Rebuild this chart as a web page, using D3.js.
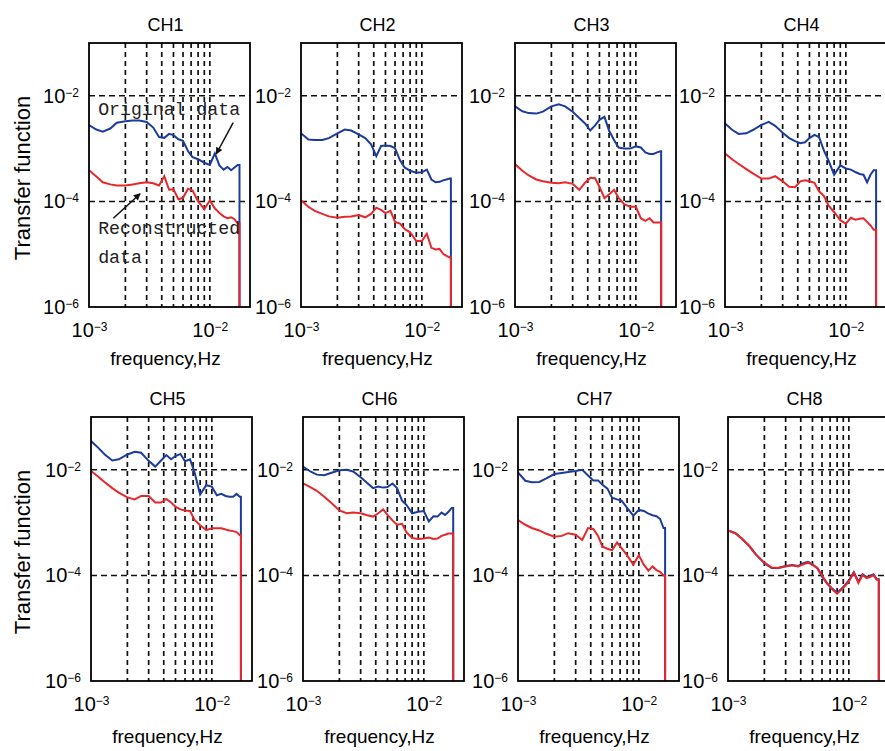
<!DOCTYPE html>
<html>
<head>
<meta charset="utf-8">
<script src="https://cdn.jsdelivr.net/npm/d3@7"></script>
<style>
body { margin: 0; background: #fff; }
text { font-family: Arial, "Liberation Sans", sans-serif; fill: #000; }
.grid-v line { stroke: #111; stroke-width: 1.7px; stroke-dasharray: 5,4; }
.grid-h line { stroke: #111; stroke-width: 1.5px; stroke-dasharray: 6,4; }
.note { font-family: "Liberation Mono", "DejaVu Sans Mono", monospace; fill: #222; }
</style>
</head>
<body>
<svg id="chart" width="885" height="751"></svg>
<script>

// frequency grid (Hz) the curves were read at
var freq = [1.0e-3, 1.15e-3, 1.3e-3, 1.5e-3, 1.7e-3, 2.0e-3, 2.3e-3, 2.6e-3, 3.0e-3, 3.4e-3,
            3.8e-3, 4.2e-3, 4.6e-3, 5.0e-3, 5.5e-3, 6.0e-3, 6.6e-3, 7.2e-3, 8.0e-3, 9.0e-3,
            1.0e-2, 1.1e-2, 1.2e-2, 1.3e-2, 1.4e-2, 1.5e-2, 1.6e-2, 1.7e-2];

var channelNames = ["CH1", "CH2", "CH3", "CH4", "CH5", "CH6", "CH7", "CH8"];
// frequency where each channel drops to the floor
var cutoffs = [1.76e-2, 1.74e-2, 1.62e-2, 1.78e-2, 1.74e-2, 1.75e-2, 1.65e-2, 1.77e-2];

var ch1Original = [2.8e-3, 2.3e-3, 2.1e-3, 2.4e-3, 3.1e-3, 3.3e-3, 3.4e-3, 3.4e-3, 3.2e-3, 2.5e-3, 1.66e-3, 1.6e-3, 1.9e-3, 1.8e-3, 1.5e-3, 1.4e-3, 8.9e-4, 6.9e-4, 6.3e-4, 5.4e-4, 4.9e-4, 8.1e-4, 4.8e-4, 4.0e-4, 4.5e-4, 3.9e-4, 4.4e-4, 4.9e-4];
var ch1Reconstructed = [3.9e-4, 2.95e-4, 2.3e-4, 2.1e-4, 2.0e-4, 2.0e-4, 2.1e-4, 2.2e-4, 2.3e-4, 2.2e-4, 2.0e-4, 3.0e-4, 1.66e-4, 1.7e-4, 1.1e-4, 1.17e-4, 1.74e-4, 1.6e-4, 1.0e-4, 7.1e-5, 1.05e-4, 7.4e-5, 6.0e-5, 5.2e-5, 4.8e-5, 5.0e-5, 4.6e-5, 3.8e-5];

var ch2Original = [1.95e-3, 1.48e-3, 1.45e-3, 1.45e-3, 1.58e-3, 1.95e-3, 2.3e-3, 2.2e-3, 1.86e-3, 1.58e-3, 1.2e-3, 7.2e-4, 1.12e-3, 1.15e-3, 1.12e-3, 1.02e-3, 6.0e-4, 4.4e-4, 3.8e-4, 3.5e-4, 3.55e-4, 4.0e-4, 2.6e-4, 2.3e-4, 2.35e-4, 2.5e-4, 2.6e-4, 2.7e-4];
var ch2Reconstructed = [1.05e-4, 7.9e-5, 6.6e-5, 5.8e-5, 5.2e-5, 4.9e-5, 5.1e-5, 5.2e-5, 5.5e-5, 5.0e-5, 5.8e-5, 7.6e-5, 6.9e-5, 6.0e-5, 6.6e-5, 4.1e-5, 3.8e-5, 3.0e-5, 2.6e-5, 1.78e-5, 1.78e-5, 2.45e-5, 1.32e-5, 1.23e-5, 1.26e-5, 1.02e-5, 9.3e-6, 8.7e-6];

var ch3Original = [6.3e-3, 5.1e-3, 4.7e-3, 4.6e-3, 5.0e-3, 6.3e-3, 6.9e-3, 6.3e-3, 5.0e-3, 3.8e-3, 3.0e-3, 2.2e-3, 2.75e-3, 3.5e-3, 4.0e-3, 2.2e-3, 1.45e-3, 1.05e-3, 1.0e-3, 1.0e-3, 1.1e-3, 1.05e-3, 8.5e-4, 7.9e-4, 7.9e-4, 8.5e-4, 8.9e-4, null];
var ch3Reconstructed = [5.1e-4, 3.8e-4, 3.1e-4, 2.6e-4, 2.4e-4, 2.25e-4, 2.2e-4, 2.3e-4, 2.15e-4, 1.66e-4, 2.25e-4, 2.8e-4, 2.75e-4, 1.9e-4, 1.15e-4, 1.35e-4, 1.66e-4, 1.17e-4, 8.9e-5, 7.9e-5, 7.9e-5, 4.8e-5, 4.3e-5, 4.8e-5, 4.0e-5, 4.0e-5, 4.0e-5, null];

var ch4Original = [3.0e-3, 2.25e-3, 1.9e-3, 1.95e-3, 2.25e-3, 2.8e-3, 3.2e-3, 2.7e-3, 2.0e-3, 1.58e-3, 1.38e-3, 1.26e-3, 1.32e-3, 1.58e-3, 1.82e-3, 1.66e-3, 9.1e-4, 5.9e-4, 3.2e-4, 4.8e-4, 4.2e-4, 4.0e-4, 3.6e-4, 3.3e-4, 3.2e-4, 2.3e-4, 3.2e-4, 3.9e-4];
var ch4Reconstructed = [8.1e-4, 6.2e-4, 5.1e-4, 4.1e-4, 3.4e-4, 2.7e-4, 2.7e-4, 3.0e-4, 2.4e-4, 1.9e-4, 1.86e-4, 2.4e-4, 2.5e-4, 2.4e-4, 2.25e-4, 1.55e-4, 1.26e-4, 8.3e-5, 6.3e-5, 4.4e-5, 3.8e-5, 4.9e-5, 4.5e-5, 4.7e-5, 4.8e-5, 4.1e-5, 3.5e-5, 2.9e-5];

var ch5Original = [3.5e-2, 2.6e-2, 1.95e-2, 1.5e-2, 1.58e-2, 1.95e-2, 2.2e-2, 2.1e-2, 1.48e-2, 1.15e-2, 1.5e-2, 1.9e-2, 1.58e-2, 1.82e-2, 2.0e-2, 1.45e-2, 1.58e-2, 8.9e-3, 3.4e-3, 5.1e-3, 4.8e-3, 3.3e-3, 3.5e-3, 3.2e-3, 3.1e-3, 3.1e-3, 3.5e-3, 3.1e-3];
var ch5Reconstructed = [9.5e-3, 7.4e-3, 5.8e-3, 4.5e-3, 3.7e-3, 3.0e-3, 2.75e-3, 3.2e-3, 3.2e-3, 2.4e-3, 2.4e-3, 2.8e-3, 2.4e-3, 2.0e-3, 1.78e-3, 1.7e-3, 1.66e-3, 1.12e-3, 8.9e-4, 7.2e-4, 7.8e-4, 7.8e-4, 7.8e-4, 7.4e-4, 7.1e-4, 6.9e-4, 6.6e-4, 5.8e-4];

var ch6Original = [1.15e-2, 9.3e-3, 8.1e-3, 7.9e-3, 8.7e-3, 9.8e-3, 1.0e-2, 9.3e-3, 7.2e-3, 5.6e-3, 4.5e-3, 4.8e-3, 4.6e-3, 4.7e-3, 5.5e-3, 4.5e-3, 2.6e-3, 2.15e-3, 1.5e-3, 1.6e-3, 1.66e-3, 1.05e-3, 1.32e-3, 1.3e-3, 1.55e-3, 1.4e-3, 1.6e-3, 1.9e-3];
var ch6Reconstructed = [5.5e-3, 4.7e-3, 4.0e-3, 3.1e-3, 2.4e-3, 1.7e-3, 1.5e-3, 1.55e-3, 1.5e-3, 1.38e-3, 1.3e-3, 1.5e-3, 1.78e-3, 1.4e-3, 1.1e-3, 9.1e-4, 9.5e-4, 6.5e-4, 5.1e-4, 4.9e-4, 5.0e-4, 5.2e-4, 4.9e-4, 5.0e-4, 5.6e-4, 5.9e-4, 6.2e-4, 6.2e-4];

var ch7Original = [8.9e-3, 6.2e-3, 5.8e-3, 5.9e-3, 6.8e-3, 8.3e-3, 8.7e-3, 9.1e-3, 9.5e-3, 1.0e-2, 7.8e-3, 6.3e-3, 6.3e-3, 5.2e-3, 4.4e-3, 2.95e-3, 2.75e-3, 2.6e-3, 1.9e-3, 1.35e-3, 1.74e-3, 1.66e-3, 1.48e-3, 1.38e-3, 1.32e-3, 1.17e-3, 7.9e-4, null];
var ch7Reconstructed = [1.12e-3, 9.1e-4, 7.9e-4, 7.1e-4, 6.2e-4, 5.4e-4, 5.6e-4, 6.3e-4, 5.9e-4, 4.7e-4, 7.9e-4, 7.6e-4, 5.6e-4, 3.5e-4, 3.2e-4, 3.0e-4, 4.2e-4, 3.3e-4, 2.4e-4, 1.6e-4, 2.4e-4, 1.6e-4, 1.23e-4, 1.48e-4, 1.26e-4, 1.17e-4, 1.0e-4, null];

var ch8Original = [7.1e-4, 6.3e-4, 5.0e-4, 3.6e-4, 2.5e-4, 1.7e-4, 1.38e-4, 1.38e-4, 1.5e-4, 1.58e-4, 1.5e-4, 1.7e-4, 1.8e-4, 1.62e-4, 1.35e-4, 9.5e-5, 7.0e-5, 5.8e-5, 4.7e-5, 6.0e-5, 8.0e-5, 1.15e-4, 7.6e-5, 1.05e-4, 9.3e-5, 9.8e-5, 1.05e-4, 8.5e-5];
var ch8Reconstructed = [7.1e-4, 6.3e-4, 5.0e-4, 3.6e-4, 2.5e-4, 1.74e-4, 1.41e-4, 1.38e-4, 1.48e-4, 1.55e-4, 1.48e-4, 1.62e-4, 1.74e-4, 1.58e-4, 1.38e-4, 1.0e-4, 7.2e-5, 5.6e-5, 4.5e-5, 5.8e-5, 7.6e-5, 1.12e-4, 7.2e-5, 1.02e-4, 8.9e-5, 9.3e-5, 1.02e-4, 8.3e-5];

// axis ticks and grid
var xTicks = [1e-3, 1e-2];
var yTicks = [1e-2, 1e-4, 1e-6];
var xGrid = [2e-3, 3e-3, 4e-3, 5e-3, 6e-3, 7e-3, 8e-3, 9e-3, 1e-2];
var yGrid = [1e-2, 1e-4];

var originals = [ch1Original, ch2Original, ch3Original, ch4Original, ch5Original, ch6Original, ch7Original, ch8Original];
var reconstructeds = [ch1Reconstructed, ch2Reconstructed, ch3Reconstructed, ch4Reconstructed, ch5Reconstructed, ch6Reconstructed, ch7Reconstructed, ch8Reconstructed];

var svg = d3.select("#chart");
var pw = 161, ph = 264;
var lefts = [[89, 301, 515, 725], [91, 303, 518, 728]];
var tops = [43, 417];
var labelGap = [58, 62];
var blue = "#1c3c9c", red = "#e6272b";

var x = d3.scaleLog().domain([1e-3, 2.15e-2]).range([0, pw]);
var y = d3.scaleLog().domain([1e-6, 1e-1]).range([ph, 0]);

var line = d3.line()
    .x(function(d) { return x(d[0]); })
    .y(function(d) { return y(d[1]); });

function powLabel(sel) {
  sel.each(function(d) {
    var t = d3.select(this).text("");
    var e = Math.round(Math.log10(d));
    t.append("tspan").text("10");
    t.append("tspan").attr("dy", "-0.5em").attr("font-size", "12px").text("\u2212" + (-e));
  });
}

function series(vals, cut) {
  var pts = [];
  freq.forEach(function(f, i) {
    if (vals[i] != null && f < cut) pts.push([f, vals[i]]);
  });
  pts.push([cut, pts[pts.length - 1][1]]);
  pts.push([cut, 1e-6]);
  return pts;
}

var defs = svg.append("defs");
defs.append("marker").attr("id", "arrow")
    .attr("viewBox", "0 0 10 10").attr("refX", 9).attr("refY", 5)
    .attr("markerWidth", 11).attr("markerHeight", 7).attr("markerUnits", "userSpaceOnUse")
    .attr("orient", "auto")
  .append("path").attr("d", "M0,0L10,5L0,10z").attr("fill", "#111");

channelNames.forEach(function(name, i) {
  var row = Math.floor(i / 4), col = i % 4;
  var g = svg.append("g")
      .attr("transform", "translate(" + lefts[row][col] + "," + tops[row] + ")");

  g.append("clipPath").attr("id", "clip" + i)
    .append("rect").attr("width", pw).attr("height", ph);

  // grid
  g.append("g").attr("class", "grid-v")
    .selectAll("line").data(xGrid).enter().append("line")
      .attr("x1", function(d) { return x(d); }).attr("x2", function(d) { return x(d); })
      .attr("y1", 0).attr("y2", ph);
  g.append("g").attr("class", "grid-h")
    .selectAll("line").data(yGrid).enter().append("line")
      .attr("y1", function(d) { return y(d); }).attr("y2", function(d) { return y(d); })
      .attr("x1", 0).attr("x2", pw);

  var lines = g.append("g").attr("clip-path", "url(#clip" + i + ")");
  lines.append("path")
      .attr("d", line(series(originals[i], cutoffs[i])))
      .attr("fill", "none").attr("stroke", blue).attr("stroke-width", 2);
  lines.append("path")
      .attr("d", line(series(reconstructeds[i], cutoffs[i])))
      .attr("fill", "none").attr("stroke", red).attr("stroke-width", 2);

  g.append("rect").attr("width", pw).attr("height", ph)
      .attr("fill", "none").attr("stroke", "#000").attr("stroke-width", 1.8);

  // axes
  var ya = g.append("g").call(d3.axisLeft(y).tickValues(yTicks).tickSize(0).tickPadding(10));
  ya.select(".domain").remove();
  ya.selectAll("text").attr("font-size", "20px").attr("font-family", null).call(powLabel);

  var xa = g.append("g").attr("transform", "translate(0," + ph + ")")
      .call(d3.axisBottom(x).tickValues(xTicks).tickSize(0).tickPadding(16));
  xa.select(".domain").remove();
  xa.selectAll("text").attr("font-size", "20px").attr("font-family", null).call(powLabel);

  g.append("text").attr("x", pw / 2 - 4).attr("y", -12)
      .attr("text-anchor", "middle").attr("font-size", "18px").text(name);

  g.append("text").attr("x", pw / 2 - 4).attr("y", ph + labelGap[row])
      .attr("text-anchor", "middle").attr("font-size", "19px").text("frequency,Hz");

  if (col === 0) {
    g.append("text")
        .attr("transform", "translate(" + (-lefts[row][col] + 30) + "," + (ph / 2 + 3) + ") rotate(-90)")
        .attr("text-anchor", "middle").attr("font-size", "22px").text("Transfer function");
  }

  if (i === 0) {
    g.append("text").attr("class", "note").attr("x", x(1.19e-3)).attr("y", y(4.4e-3))
        .attr("font-size", "19px").attr("textLength", 142).attr("lengthAdjust", "spacingAndGlyphs")
        .text("Original data");
    g.append("text").attr("class", "note").attr("x", x(1.19e-3)).attr("y", y(2.45e-5))
        .attr("font-size", "19px").attr("textLength", 142).attr("lengthAdjust", "spacingAndGlyphs")
        .text("Reconstructed");
    g.append("text").attr("class", "note").attr("x", x(1.19e-3)).attr("y", y(6.9e-6))
        .attr("font-size", "19px").attr("textLength", 44).attr("lengthAdjust", "spacingAndGlyphs")
        .text("data");

    g.append("line")
        .attr("x1", x(1.56e-2)).attr("y1", y(3.1e-3))
        .attr("x2", x(1.13e-2)).attr("y2", y(7.9e-4))
        .attr("stroke", "#111").attr("stroke-width", 1.5).attr("marker-end", "url(#arrow)");
    g.append("line")
        .attr("x1", x(1.59e-3)).attr("y1", y(4.8e-5))
        .attr("x2", x(2.65e-3)).attr("y2", y(1.4e-4))
        .attr("stroke", "#111").attr("stroke-width", 1.5).attr("marker-end", "url(#arrow)");
  }
});

</script>
</body>
</html>
